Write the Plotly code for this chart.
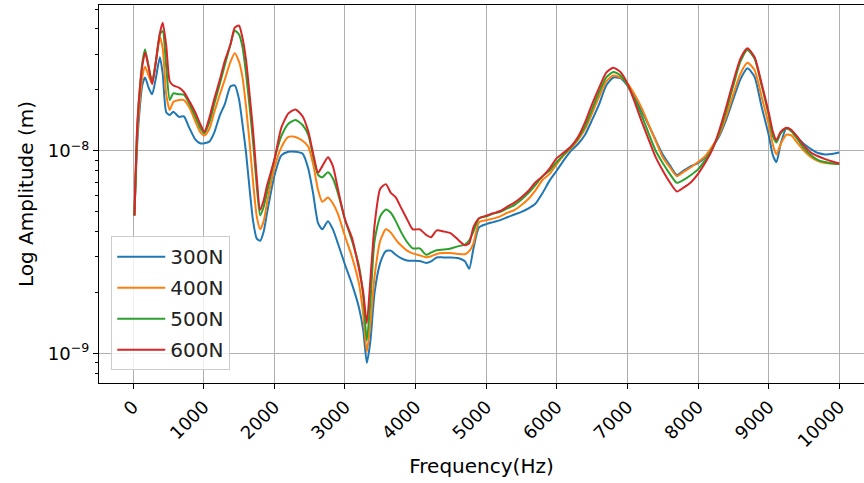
import plotly.graph_objects as go

# Frequency grid (Hz) shared by all load cases
freq_hz = [
    20, 60, 100, 130, 170, 220, 270, 320, 380, 420, 470, 520, 570, 650, 720, 800, 880, 950,
    1010, 1080, 1150, 1230, 1300, 1380, 1440, 1500, 1550, 1600, 1650, 1700, 1750, 1800, 1850,
    1900, 2000, 2100, 2200, 2300, 2400, 2480, 2550, 2620, 2680, 2760, 2830, 2900, 3000, 3100,
    3200, 3260, 3310, 3360, 3420, 3500, 3580, 3650, 3720, 3800, 3880, 3960, 4060, 4150, 4220,
    4300, 4400, 4500, 4600, 4700, 4760, 4820, 4900, 5000, 5100, 5200, 5300, 5400, 5500, 5600,
    5700, 5800, 5900, 6000, 6100, 6200, 6300, 6400, 6500, 6600, 6700, 6800, 6900, 7000, 7100,
    7200, 7300, 7400, 7500, 7600, 7700, 7800, 7900, 8000, 8100, 8200, 8300, 8400, 8500, 8600,
    8700, 8800, 8900, 9000, 9060, 9110, 9170, 9250, 9320, 9400, 9500, 9600, 9700, 9800, 9900,
    10000,
]

# Displacement amplitude in nanometres for each preload
amp_300n = [
    4.8, 11, 17, 21, 23.0, 20.5, 19.0, 22.5, 28.9, 24, 15.5, 15.0, 15.6, 14.7, 14.8, 12.9, 11.4, 10.9,
    10.9, 11.1, 12.3, 15.0, 17.0, 20.8, 21.0, 18.0, 13.5, 9.8, 6.5, 4.5, 3.7, 3.6, 4.0,
    5.0, 7.5, 9.5, 9.9, 9.9, 9.7, 8.2, 6.16, 4.4, 4.1, 4.5, 4.1, 3.5, 2.75, 2.2,
    1.68, 1.3, 0.9, 1.15, 2.0, 2.8, 3.2, 3.22, 3.07, 2.95, 2.88, 2.87, 2.86, 2.80, 2.85,
    2.98, 2.98, 2.98, 2.96, 2.85, 2.62, 3.3, 4.2, 4.35, 4.45, 4.55, 4.7, 4.85, 5.0, 5.2,
    5.5, 6.2, 7.15, 8.0, 9.0, 10.0, 10.8, 12.0, 14.2, 17.0, 21.0, 23.0, 22.8, 21.0, 18.5,
    15.8, 13.4, 11.3, 9.6, 8.5, 7.6, 8.0, 8.4, 8.7, 9.3, 10.4, 11.8, 14.3, 18.0, 22.5,
    25.5, 23.2, 16.5, 12.0, 9.5, 8.8, 10.8, 12.9, 12.6, 11.7, 10.8, 10.2, 9.75, 9.6, 9.65,
    9.8,
]
amp_400n = [
    4.8, 12, 18.5, 23, 26.0, 23.5, 21.5, 27, 36.4, 32, 19.0, 15.9, 17.4, 17.8, 17.8, 16.3, 14.0, 12.4,
    11.9, 12.8, 15.5, 19.0, 22.5, 27.5, 30.3, 27.5, 23.0, 16.5, 11.0, 7.0, 4.8, 4.1, 4.5,
    5.6, 8.2, 10.4, 11.7, 11.7, 11.2, 10.5, 8.6, 6.4, 5.6, 5.88, 5.5, 4.9, 3.8, 3.0,
    2.2, 1.55, 1.02, 1.4, 2.4, 3.6, 4.1, 3.95, 3.65, 3.4, 3.22, 3.12, 3.05, 2.99, 3.02,
    3.1, 3.13, 3.13, 3.1, 3.09, 3.2, 3.5, 4.45, 4.55, 4.63, 4.75, 4.95, 5.1, 5.4, 5.8,
    6.4, 7.2, 7.7, 8.6, 9.5, 10.3, 11.3, 12.8, 15.3, 18.5, 22.0, 23.5, 23.0, 21.5, 19.0,
    16.3, 13.5, 11.2, 9.3, 8.3, 7.5, 7.9, 8.3, 8.8, 9.4, 10.5, 12.0, 14.8, 19.0, 24.0,
    27.2, 25.0, 18.5, 13.5, 10.7, 9.6, 10.8, 12.0, 11.9, 11.0, 10.0, 9.3, 8.9, 8.7, 8.65,
    8.6,
]
amp_500n = [
    4.8, 13, 21, 27, 31.7, 26, 22, 27, 37.5, 39, 26, 17.8, 19.2, 19.0, 18.9, 17.0, 14.8, 13.0,
    12.2, 13.8, 17.0, 21.5, 26.5, 33.5, 39.2, 37.5, 32.5, 24, 16.5, 11, 6.8, 4.8, 5.3,
    6.3, 9.0, 11.8, 13.6, 14.2, 13.4, 12.0, 9.4, 7.6, 7.4, 7.85, 7.3, 6.2, 4.6, 3.6,
    2.7, 1.9, 1.16, 1.8, 3.6, 4.75, 5.14, 4.95, 4.5, 3.95, 3.55, 3.3, 3.3, 3.07, 3.15,
    3.23, 3.26, 3.3, 3.38, 3.45, 3.62, 4.0, 4.65, 4.75, 4.9, 5.0, 5.2, 5.4, 5.75, 6.2,
    6.8, 7.5, 8.0, 8.8, 9.6, 10.4, 11.5, 13.2, 16.0, 19.5, 23.0, 24.5, 23.6, 21.0, 18.0,
    15.0, 12.2, 10.0, 8.7, 7.7, 6.95, 7.2, 7.6, 8.1, 9.0, 10.2, 12.3, 15.8, 21.0, 27.5,
    31.4, 28.5, 21.0, 15.0, 11.8, 11.0, 12.2, 12.9, 12.5, 11.5, 10.3, 9.5, 9.0, 8.8, 8.65,
    8.6,
]
amp_600n = [
    4.8, 13.5, 21, 26, 30.5, 26, 21.3, 27, 38, 42.8, 33, 22, 21.0, 20.5, 19.5, 17.5, 15.5, 13.6,
    12.4, 14.5, 18.0, 22.5, 27.8, 33.5, 40.5, 41.5, 36, 28, 19, 12.5, 7.5, 5.1, 5.7,
    6.8, 9.0, 13.0, 15.3, 16.0, 14.8, 12.5, 9.7, 7.8, 8.4, 9.3, 8.4, 6.5, 4.6, 3.72,
    2.6, 2.0, 1.41, 2.3, 4.3, 6.5, 6.85, 6.2, 5.9, 5.2, 4.6, 4.1, 4.1, 3.85, 3.75,
    4.05, 4.0, 3.92, 3.65, 3.42, 3.5, 4.2, 4.65, 4.78, 4.92, 5.05, 5.3, 5.55, 5.9, 6.35,
    7.0, 7.5, 8.2, 9.2, 9.8, 10.5, 11.7, 13.8, 17.0, 20.5, 24.3, 25.7, 24.5, 21.5, 17.5,
    14.0, 11.4, 9.3, 8.0, 7.0, 6.3, 6.6, 7.0, 7.7, 8.7, 10.1, 12.6, 16.5, 22.0, 28.5,
    32.0, 29.0, 21.5, 15.5, 12.4, 11.3, 12.4, 13.0, 12.7, 11.8, 10.6, 9.8, 9.4, 9.1, 8.85,
    8.65,
]

series_names = ["300N", "400N", "500N", "600N"]
series_values = [amp_300n, amp_400n, amp_500n, amp_600n]
series_colors = ["#1f77b4", "#ff7f0e", "#2ca02c", "#d62728"]

x_ticks = list(range(0, 10001, 1000))
y_major = [1e-9, 1e-8]
y_major_text = ["10<sup>\u22129</sup>", "10<sup>\u22128</sup>"]
y_minor = [k * 10.0 ** e for e in (-10, -9, -8) for k in range(2, 10)]

NM = 1e-9
FONT = "DejaVu Sans"

fig = go.Figure()
for name, vals, color in zip(series_names, series_values, series_colors):
    fig.add_trace(go.Scatter(
        x=freq_hz,
        y=[v * NM for v in vals],
        mode="lines",
        name=name,
        legendgroup=name,
        line=dict(color=color, width=2, shape="spline", smoothing=0.6),
    ))

fig.update_layout(
    width=864,
    height=483,
    margin=dict(l=99, r=0, t=5, b=100),
    paper_bgcolor="white",
    plot_bgcolor="white",
    font=dict(family=FONT, size=18, color="black"),
    showlegend=True,
    legend=dict(
        x=0.016, y=0.034, xanchor="left", yanchor="bottom",
        bgcolor="rgba(255,255,255,0.8)",
        bordercolor="#cccccc", borderwidth=1,
        itemwidth=48,
        tracegroupgap=2,
        entrywidth=112,
        font=dict(family=FONT, size=20, color="#222222"),
    ),
)

fig.update_xaxes(
    range=[-482, 10350],
    tickvals=x_ticks,
    ticktext=[str(t) for t in x_ticks],
    tickangle=-45,
    ticks="outside", ticklen=5, tickwidth=1.2, tickcolor="black",
    tickfont=dict(family=FONT, size=18, color="black"),
    showgrid=True, gridcolor="#b0b0b0", gridwidth=1.2,
    showline=True, linecolor="black", linewidth=1.2, mirror=True,
    zeroline=False,
    title=dict(text="Frequency(Hz)", font=dict(family=FONT, size=20, color="black"), standoff=8),
    automargin=False,
)

fig.update_yaxes(
    type="log",
    range=[-9.145, -7.281],
    tickvals=y_major,
    ticktext=y_major_text,
    ticks="outside", ticklen=5, tickwidth=1.2, tickcolor="black",
    tickfont=dict(family=FONT, size=18, color="black"),
    minor=dict(tickvals=y_minor, ticks="outside", ticklen=3, tickwidth=1, tickcolor="black", showgrid=False),
    showgrid=True, gridcolor="#b0b0b0", gridwidth=1.2,
    showline=True, linecolor="black", linewidth=1.2, mirror=False,
    zeroline=False,
    title=dict(text="Log Amplitude (m)", font=dict(family=FONT, size=20, color="black"), standoff=8),
    automargin=False,
)

fig.write_html("out.html")
